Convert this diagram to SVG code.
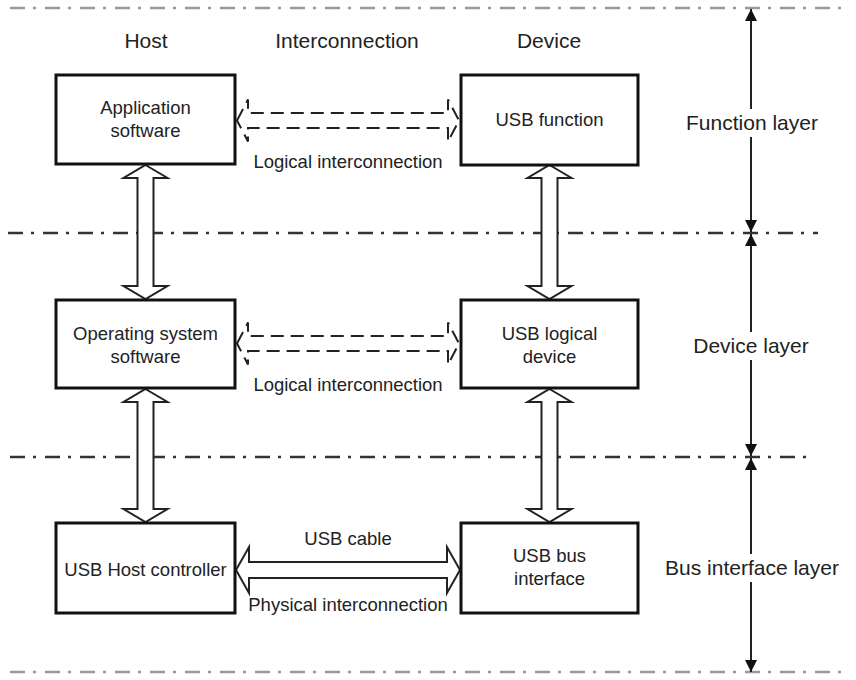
<svg xmlns="http://www.w3.org/2000/svg" width="856" height="680" viewBox="0 0 856 680">
<style>
text{font-family:"Liberation Sans",Arial,sans-serif;fill:#222;text-anchor:middle}
.t{font-size:18.5px}
.h{font-size:21px}
.box{fill:#fff;stroke:#111;stroke-width:3}
.fat{fill:#fff;stroke:#222;stroke-width:2;stroke-linejoin:miter}
.dash{fill:none;stroke:#222;stroke-width:2;stroke-dasharray:13 7}
.layer{stroke:#333;stroke-width:2.5;stroke-dasharray:15 8 3 9;fill:none}
.edge{stroke:#999;stroke-width:2.5;stroke-dasharray:15 8 3 9;fill:none}
.dim{stroke:#222;stroke-width:2;fill:none}
</style>
<defs>
<marker id="ah" viewBox="0 0 12 18" refX="12" refY="9" markerWidth="12" markerHeight="18" markerUnits="userSpaceOnUse" orient="auto"><path d="M0,3 L12,9 L0,15 Z" fill="#111"/></marker>
</defs>
<g id="layer-lines">
<line class="edge" x1="10" y1="8" x2="846" y2="8"/>
<line class="layer" x1="8" y1="233" x2="818" y2="233"/>
<line class="layer" x1="10" y1="457" x2="806" y2="457"/>
<line class="edge" x1="10" y1="672" x2="846" y2="672"/>
</g>
<g id="headers">
<text class="h" x="146" y="48">Host</text>
<text class="h" x="347" y="48">Interconnection</text>
<text class="h" x="549" y="48">Device</text>
</g>
<g id="layer-labels">
<text class="h" x="752" y="130">Function layer</text>
<text class="h" x="751" y="353">Device layer</text>
<text class="h" x="752" y="575">Bus interface layer</text>
</g>
<g id="connectors">
<polygon class="fat" points="145.5,165 167.5,178 153.5,178 153.5,286 167.5,286 145.5,299 123.5,286 137.5,286 137.5,178 123.5,178"/>
<polygon class="fat" points="145.5,389 167.5,402 153.5,402 153.5,509 167.5,509 145.5,522 123.5,509 137.5,509 137.5,402 123.5,402"/>
<polygon class="fat" points="549.5,165 571.5,178 557.5,178 557.5,286 571.5,286 549.5,299 527.5,286 541.5,286 541.5,178 527.5,178"/>
<polygon class="fat" points="549.5,389 571.5,402 557.5,402 557.5,509 571.5,509 549.5,522 527.5,509 541.5,509 541.5,402 527.5,402"/>
<polygon class="fat" points="236,570 249,547 249,562 447,562 447,547 460,570 447,593 447,578 249,578 249,593"/>
<polygon class="dash" points="237,120.5 248,99.5 248,113 448,113 448,99.5 459,120.5 448,141.5 448,128 248,128 248,141.5"/>
<polygon class="dash" points="237,343.5 248,322.5 248,336 448,336 448,322.5 459,343.5 448,364.5 448,351 248,351 248,364.5"/>
<line class="dim" x1="751" y1="109" x2="751" y2="9" marker-end="url(#ah)"/>
<line class="dim" x1="751" y1="137" x2="751" y2="232" marker-end="url(#ah)"/>
<line class="dim" x1="751" y1="332" x2="751" y2="234" marker-end="url(#ah)"/>
<line class="dim" x1="751" y1="360" x2="751" y2="456" marker-end="url(#ah)"/>
<line class="dim" x1="751" y1="554" x2="751" y2="458" marker-end="url(#ah)"/>
<line class="dim" x1="751" y1="582" x2="751" y2="672" marker-end="url(#ah)"/>
<text class="t" x="348" y="168">Logical interconnection</text>
<text class="t" x="348" y="391">Logical interconnection</text>
<text class="t" x="348" y="545">USB cable</text>
<text class="t" x="348" y="611">Physical interconnection</text>
</g>
<g id="app-software">
<rect class="box" x="56" y="75" width="179" height="89"/>
<text class="t" x="145.5" y="114">Application</text>
<text class="t" x="145.5" y="137">software</text>
</g>
<g id="usb-function">
<rect class="box" x="461" y="75" width="177" height="90"/>
<text class="t" x="549.5" y="126">USB function</text>
</g>
<g id="os-software">
<rect class="box" x="56" y="300" width="179" height="88"/>
<text class="t" x="145.5" y="340">Operating system</text>
<text class="t" x="145.5" y="363">software</text>
</g>
<g id="usb-logical-device">
<rect class="box" x="461" y="300" width="177" height="88"/>
<text class="t" x="549.5" y="340">USB logical</text>
<text class="t" x="549.5" y="363">device</text>
</g>
<g id="usb-host-controller">
<rect class="box" x="56" y="523" width="179" height="90"/>
<text class="t" x="145.5" y="576">USB Host controller</text>
</g>
<g id="usb-bus-interface">
<rect class="box" x="461" y="523" width="177" height="90"/>
<text class="t" x="549.5" y="562">USB bus</text>
<text class="t" x="549.5" y="585">interface</text>
</g>
</svg>
